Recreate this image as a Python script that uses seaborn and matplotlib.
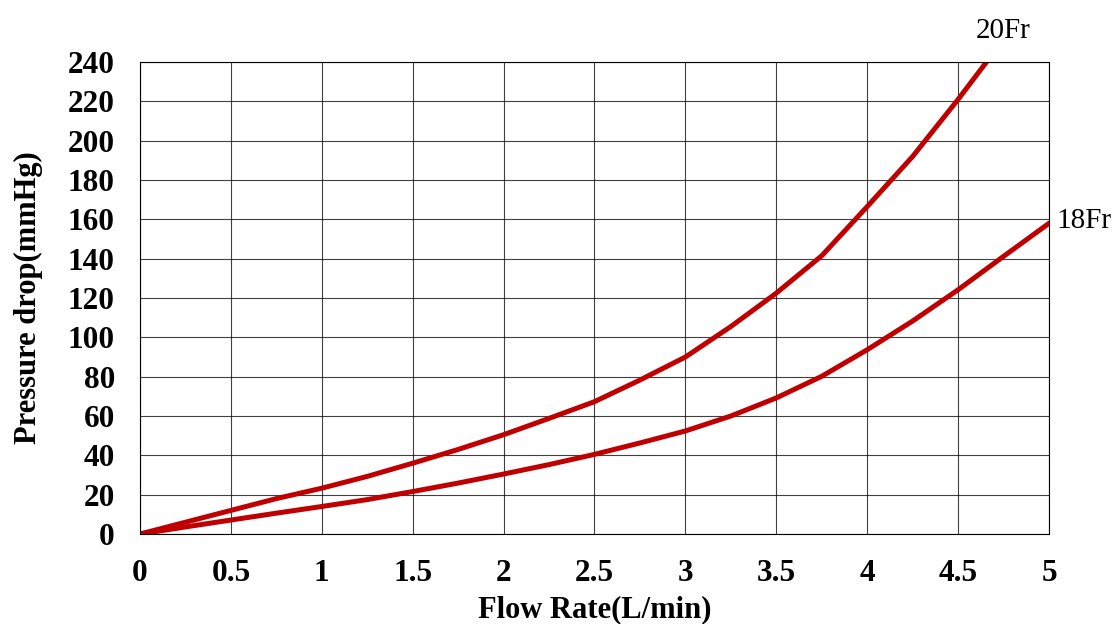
import matplotlib
matplotlib.use('Agg')
import matplotlib.pyplot as plt
import seaborn as sns
import pandas as pd

# values
flow_20fr = [0, 0.25, 0.5, 0.75, 1, 1.25, 1.5, 1.75, 2, 2.25, 2.5, 2.75,
             3, 3.25, 3.5, 3.75, 4, 4.25, 4.5, 4.656]
drop_20fr = [0, 6, 12, 18, 23.3, 29.3, 36, 43, 50.5, 58.8, 67.3, 78.3,
             90, 105.5, 122.5, 141.5, 166.5, 192, 221, 240]
flow_18fr = [0, 0.25, 0.5, 0.75, 1, 1.25, 1.5, 1.75, 2, 2.25, 2.5, 2.75,
             3, 3.25, 3.5, 3.75, 4, 4.25, 4.5, 4.75, 5]
drop_18fr = [0, 3.6, 7.1, 10.6, 14, 17.5, 21.6, 25.9, 30.5, 35.3, 40.5, 46.3,
             52.4, 60, 69.2, 80.2, 93.7, 108.3, 124.2, 141.2, 158]
x_ticks = [0, 0.5, 1, 1.5, 2, 2.5, 3, 3.5, 4, 4.5, 5]
x_tick_labels = ['0', '0.5', '1', '1.5', '2', '2.5', '3', '3.5', '4', '4.5', '5']
y_ticks = list(range(0, 241, 20))


def main():
    sns.set_style('white')
    plt.rcParams['font.family'] = ['Liberation Serif', 'DejaVu Serif']
    for key in ['text.color', 'axes.labelcolor', 'xtick.color', 'ytick.color']:
        plt.rcParams[key] = 'black'

    df = pd.concat([
        pd.DataFrame({'flow': flow_20fr, 'drop': drop_20fr, 'size': '20Fr'}),
        pd.DataFrame({'flow': flow_18fr, 'drop': drop_18fr, 'size': '18Fr'}),
    ])

    fig = plt.figure(figsize=(11.18, 6.24), dpi=100)
    ax = fig.add_axes([0.1252, 0.1442, 0.8131, 0.7564])

    sns.lineplot(data=df, x='flow', y='drop', hue='size', ax=ax,
                 palette={'20Fr': '#C00000', '18Fr': '#C00000'},
                 linewidth=3.6, legend=False, sort=False, estimator=None)
    for line in ax.get_lines():
        line.set_solid_joinstyle('round')
        line.set_solid_capstyle('round')

    ax.set_xlim(0, 5)
    ax.set_ylim(0, 240)
    ax.set_xticks(x_ticks)
    ax.set_xticklabels(x_tick_labels)
    ax.set_yticks(y_ticks)
    ax.grid(True, color='black', linewidth=0.8, alpha=0.75)
    ax.set_axisbelow(True)
    for s in ax.spines.values():
        s.set_color('black')
        s.set_linewidth(0.8)
    ax.tick_params(length=0, pad=18, labelsize=22.5)
    for lbl in ax.get_xticklabels() + ax.get_yticklabels():
        lbl.set_fontweight('bold')

    ax.set_xlabel('Flow Rate(L/min)', fontsize=22, fontweight='bold', labelpad=5)
    ax.set_ylabel('Pressure drop(mmHg)', fontsize=22, fontweight='bold', labelpad=18)

    ax.text(4.75, 249, '20Fr', fontsize=21, ha='center', va='bottom', clip_on=False)
    ax.text(5.04, 159, '18Fr', fontsize=21, ha='left', va='center', clip_on=False)

    fig.savefig('out.png', dpi=100)
    plt.close(fig)


if __name__ == '__main__':
    main()
